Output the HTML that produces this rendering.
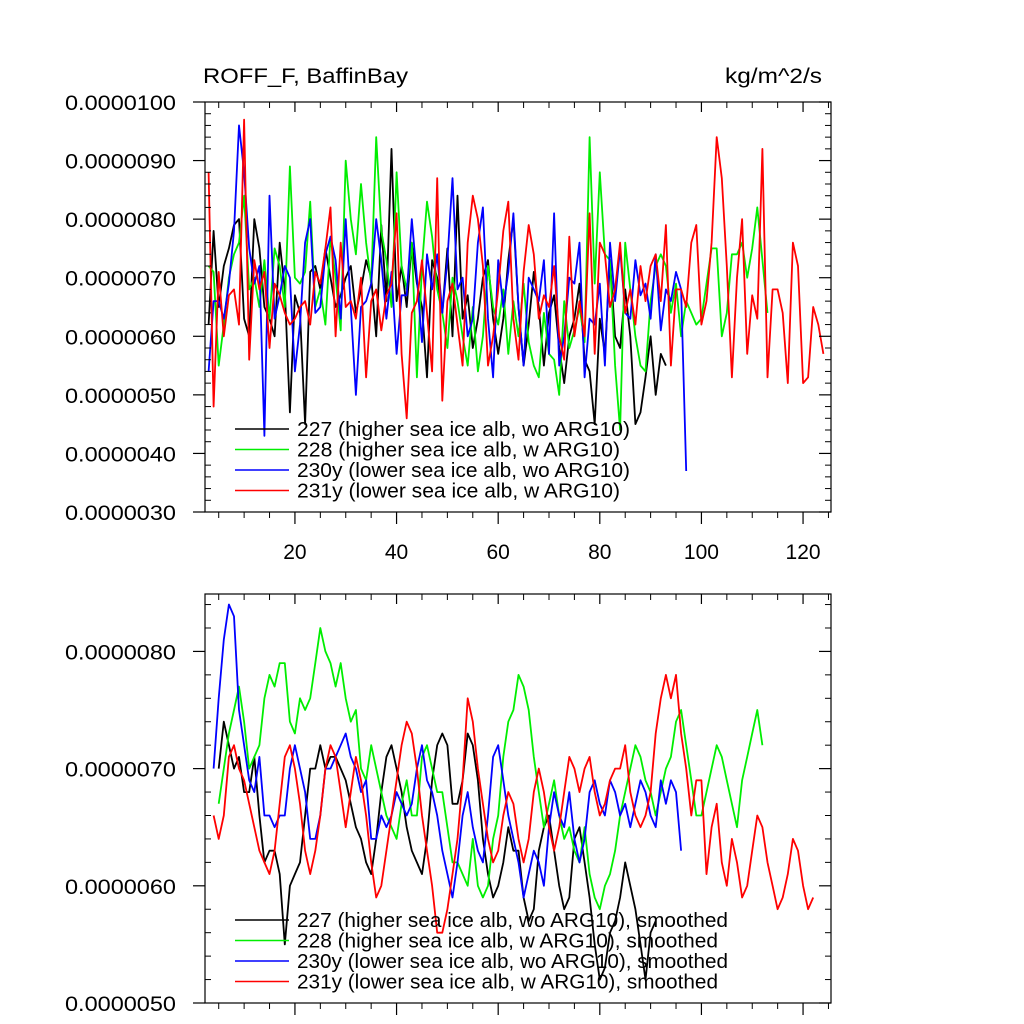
<!DOCTYPE html>
<html><head><meta charset="utf-8"><style>
html,body{margin:0;padding:0;background:#fff}
svg{display:block}
text{font-family:"Liberation Sans",Arial,sans-serif;fill:#000}
</style></head><body>
<svg id="chart" width="1024" height="1024" viewBox="0 0 1024 1024">
<text x="203" y="83" font-size="21" textLength="205" lengthAdjust="spacingAndGlyphs">ROFF_F, BaffinBay</text>
<text x="725" y="83" font-size="21" textLength="97" lengthAdjust="spacingAndGlyphs">kg/m^2/s</text>
</svg>
<script>
// ---- data (values in units of 1e-6 kg/m^2/s) ----
const xTicksTop = [20, 40, 60, 80, 100, 120];
const yTicksTop = [3, 4, 5, 6, 7, 8, 9, 10];
const yTicksBottom = [5, 6, 7, 8];
const seriesNames = ["227 (higher sea ice alb, wo ARG10)","228 (higher sea ice alb, w ARG10)","230y (lower sea ice alb, wo ARG10)","231y (lower sea ice alb, w ARG10)"];
const seriesColors = ["#000000","#00ee00","#0000ff","#ff0000"];
const startTop = [3, 3, 3, 3];
const raw227 = [6.2,7.8,6.5,7.2,7.5,7.9,8.0,6.3,6.0,8.0,7.5,6.5,6.3,6.0,7.6,6.8,4.7,6.7,6.4,4.5,7.1,7.2,6.8,7.5,7.0,6.5,6.7,7.0,7.2,6.4,6.8,7.3,7.0,6.0,7.9,6.6,9.2,6.6,7.2,6.5,7.6,6.9,6.5,5.3,7.3,7.0,6.4,7.5,6.0,8.4,6.3,6.7,5.8,6.3,7.0,7.3,6.3,5.7,6.3,7.3,8.0,6.5,5.5,6.2,7.1,6.5,5.5,6.4,6.7,5.8,5.2,6.0,6.3,6.9,5.6,5.4,4.5,6.3,5.7,7.3,6.0,5.8,6.8,6.0,4.5,4.7,5.3,6.0,5.0,5.7,5.5];
const raw228 = [7.2,7.1,5.5,6.2,7.0,7.4,7.6,8.4,6.8,7.0,6.5,7.3,6.3,7.5,7.2,6.5,8.9,7.0,6.9,7.1,8.3,6.5,6.8,6.2,7.7,7.0,6.1,9.0,8.0,7.4,8.6,7.6,6.9,9.4,7.8,7.3,6.5,8.8,7.2,6.8,7.6,5.3,7.2,8.3,7.7,6.8,6.4,5.8,7.0,6.6,6.0,5.5,6.5,5.4,6.0,7.2,6.5,6.2,6.8,5.7,6.6,6.0,6.9,5.9,5.5,5.3,6.4,5.7,5.6,5.0,6.6,5.8,6.1,6.5,5.9,9.4,6.9,8.8,7.4,7.3,5.5,4.4,7.6,6.8,6.0,5.5,5.4,6.6,7.2,7.4,7.2,6.4,6.9,6.0,6.6,6.4,6.2,6.3,6.9,7.5,7.5,6.0,6.4,7.4,7.4,7.6,7.0,7.5,8.2,7.3,6.4];
const raw230 = [5.4,6.6,6.6,6.3,6.9,7.8,9.6,8.8,7.5,6.9,7.2,4.3,8.4,6.3,6.7,7.2,7.0,5.4,6.2,7.6,8.0,6.4,6.5,7.4,7.7,7.3,6.3,8.0,6.5,5.0,6.5,6.6,6.9,8.0,7.3,6.3,7.1,5.7,6.7,6.7,8.0,7.0,5.9,7.4,6.8,7.4,6.4,7.3,8.7,6.8,7.0,6.0,6.3,7.6,8.2,6.3,5.3,7.3,6.5,7.1,8.1,6.5,5.5,7.0,6.8,6.6,7.3,5.7,8.1,5.5,6.0,7.0,6.9,7.6,5.3,6.3,6.2,6.9,5.5,7.6,6.6,7.5,6.4,6.3,7.3,6.7,6.9,6.3,7.4,6.1,6.8,6.6,7.1,6.8,3.7];
const raw231 = [8.8,4.8,7.1,6.0,6.7,6.8,6.2,9.7,5.6,7.3,6.8,7.1,5.8,6.9,6.7,6.4,6.2,6.3,6.5,6.6,6.2,7.1,6.9,7.5,8.2,6.0,7.6,6.5,6.6,6.3,7.0,5.3,6.6,6.8,6.1,6.7,6.9,8.1,5.7,4.6,6.4,6.6,7.3,6.4,5.4,8.7,4.9,6.6,6.9,6.2,5.5,7.6,8.4,8.0,7.2,5.5,6.0,6.8,7.8,8.3,6.3,5.6,7.1,7.9,7.4,6.3,6.7,6.5,7.2,6.0,5.6,7.7,6.0,6.6,6.0,8.1,5.7,7.6,7.4,6.5,6.8,7.6,6.4,6.8,6.2,7.2,6.6,7.2,7.4,6.6,7.9,5.5,6.8,6.8,6.5,7.6,7.9,6.2,6.6,7.6,9.4,8.7,7.2,5.3,7.0,8.0,5.7,6.7,6.3,9.2,5.3,6.8,6.8,6.4,5.2,7.6,7.2,5.2,5.3,6.5,6.2,5.7];
const startBottom = [5, 5, 4, 4];
const sm227 = [7.0,7.4,7.2,7.0,7.1,6.8,6.8,7.1,6.6,6.2,6.3,6.3,6.1,5.5,6.0,6.1,6.2,6.6,7.0,7.0,7.2,7.0,7.1,7.1,7.0,6.9,6.7,6.5,6.4,6.2,6.1,6.4,6.8,7.1,7.2,7.0,6.8,6.5,6.3,6.2,6.1,6.4,6.9,7.2,7.3,7.2,6.7,6.7,6.9,7.3,7.2,6.9,6.4,6.1,5.9,6.0,6.2,6.5,6.3,6.3,5.9,5.7,5.8,6.3,6.5,6.6,6.3,6.0,5.8,5.9,6.4,6.5,6.2,5.9,5.5,5.2,5.3,5.6,5.7,5.9,6.2,6.0,5.8,5.5,5.2,5.6,5.7];
const sm228 = [6.7,7.0,7.3,7.5,7.7,7.4,7.0,7.1,7.2,7.6,7.8,7.7,7.9,7.9,7.4,7.3,7.6,7.5,7.6,7.9,8.2,8.0,7.9,7.7,7.9,7.6,7.4,7.5,7.0,6.9,7.2,7.0,6.8,6.6,6.5,6.4,6.7,6.9,6.6,6.6,7.1,7.2,7.0,6.8,6.8,6.5,6.2,6.2,6.1,6.0,6.4,6.0,5.9,6.0,6.4,6.6,7.1,7.4,7.5,7.8,7.7,7.5,7.1,6.8,6.5,6.7,6.9,6.6,6.4,6.5,6.3,6.2,6.5,6.1,5.9,5.8,6.0,6.1,6.3,6.6,6.8,7.0,7.2,7.1,6.9,6.8,6.6,6.8,7.0,7.1,7.4,7.5,7.2,6.9,6.6,6.6,6.8,7.0,7.2,7.1,6.9,6.7,6.5,6.9,7.1,7.3,7.5,7.2];
const sm230 = [7.0,7.6,8.1,8.4,8.3,7.5,7.2,6.9,6.8,7.1,6.6,6.6,6.5,6.6,6.6,7.0,7.2,7.0,6.8,6.4,6.4,6.6,7.0,7.0,7.1,7.2,7.3,7.1,7.0,6.8,6.9,6.4,6.4,6.6,6.5,6.6,6.8,6.7,6.6,6.7,7.0,7.2,6.9,6.8,6.6,6.3,6.1,5.9,6.2,6.6,6.8,6.5,6.3,6.2,6.6,7.1,7.2,6.9,6.6,6.4,6.2,5.9,6.1,6.3,6.2,6.0,6.5,6.8,6.6,6.5,6.8,6.4,6.2,6.4,6.8,6.9,6.7,6.6,6.9,6.8,6.6,6.7,6.5,6.7,6.9,6.8,6.6,6.5,6.9,6.7,6.9,6.8,6.3];
const sm231 = [6.6,6.4,6.6,7.1,7.2,7.0,6.9,6.7,6.5,6.3,6.2,6.1,6.3,6.7,7.1,7.2,7.0,6.7,6.3,6.1,6.3,6.6,7.0,7.2,7.1,6.8,6.5,6.8,7.1,6.9,6.6,6.2,5.9,6.0,6.3,6.6,6.9,7.2,7.4,7.3,7.0,6.6,6.3,6.0,5.6,5.6,5.8,6.1,6.4,6.9,7.6,7.4,7.0,6.7,6.4,6.2,6.3,6.6,6.8,6.7,6.4,6.2,6.4,6.8,7.0,6.8,6.5,6.3,6.5,6.8,7.1,7.0,6.8,7.0,7.1,6.8,6.6,6.7,6.9,7.0,7.0,7.2,6.8,6.6,6.5,6.6,6.8,7.3,7.6,7.8,7.6,7.8,7.3,7.0,6.6,6.9,6.9,6.1,6.5,6.7,6.2,6.0,6.4,6.2,5.9,6.0,6.3,6.6,6.5,6.2,6.0,5.8,5.9,6.1,6.4,6.3,6.0,5.8,5.9];

const NS = "http://www.w3.org/2000/svg";
const svg = document.getElementById("chart");
function mk(tag, attrs, parent) {
  const e = document.createElementNS(NS, tag);
  for (const k in attrs) e.setAttribute(k, attrs[k]);
  (parent || svg).appendChild(e);
  return e;
}
const X0 = 205, X1 = 831, XMIN = 2.3, XMAX = 125.5;
function xs(v) { return X0 + (v - XMIN) / (XMAX - XMIN) * (X1 - X0); }

function panel(name, top, bot, ymin, ymax, yTicks, rawList, starts, legendY, suffix, showXLabels) {
  const ys = v => bot - (v - ymin) / (ymax - ymin) * (bot - top);
  const g = mk("g", {});
  
  
  rawList.forEach((arr, si) => {
    const pts = arr.map((v, i) => xs(starts[si] + i).toFixed(1) + "," + ys(v).toFixed(1)).join(" ");
    const pl = mk("polyline", {points: pts, fill: "none", stroke: seriesColors[si], "stroke-width": 1.8, "stroke-linejoin": "round"}, g);
    
    
  });
  const fr = mk("rect", {x: X0, y: top, width: X1 - X0, height: bot - top, fill: "none", stroke: "#000", "stroke-width": 1.2}, g);
  
  
  const step = (yTicks[1] - yTicks[0]) / 5;
  for (let v = ymin; v <= ymax + 1e-9; v += step) {
    const y = ys(v);
    if (y < top - 0.5) continue;
    const major = yTicks.some(t => Math.abs(t - v) < 1e-6);
    if (major) {
      mk("line", {x1: X0 - 12, x2: X0, y1: y, y2: y, stroke: "#000", "stroke-width": 1.2}, g);
      mk("line", {x1: X1, x2: X1 - 12, y1: y, y2: y, stroke: "#000", "stroke-width": 1.2}, g);
    } else {
      mk("line", {x1: X0, x2: X0 + 6, y1: y, y2: y, stroke: "#000", "stroke-width": 1}, g);
      mk("line", {x1: X1, x2: X1 - 6, y1: y, y2: y, stroke: "#000", "stroke-width": 1}, g);
    }
  }
  yTicks.forEach(v => {
    const t = mk("text", {x: 65, y: ys(v) + 8, "font-size": 21, textLength: 111, lengthAdjust: "spacingAndGlyphs"}, g);
    t.textContent = (v * 1e-6).toFixed(7);
    
    
  });
  for (let v = 5; v <= 125; v += 5) {
    const x = xs(v);
    const major = v % 20 === 0;
    if (major) {
      mk("line", {x1: x, x2: x, y1: bot, y2: bot + 12, stroke: "#000", "stroke-width": 1.2}, g);
      mk("line", {x1: x, x2: x, y1: top, y2: top + 10, stroke: "#000", "stroke-width": 1.2}, g);
    } else {
      mk("line", {x1: x, x2: x, y1: bot, y2: bot + 6, stroke: "#000", "stroke-width": 1}, g);
      mk("line", {x1: x, x2: x, y1: top, y2: top + 6, stroke: "#000", "stroke-width": 1}, g);
    }
  }
  if (showXLabels) xTicksTop.forEach(v => {
    const t = mk("text", {x: xs(v), y: bot + 47, "font-size": 21, "text-anchor": "middle"}, g);
    t.textContent = v;
    
    
  });
  const lg = mk("g", {}, g);
  
  
  seriesNames.forEach((n, i) => {
    const y = legendY + i * 20.5;
    mk("line", {x1: 235, x2: 289, y1: y, y2: y, stroke: seriesColors[i], "stroke-width": 1.6}, lg);
    const label = n + suffix;
    const t = mk("text", {x: 297, y: y + 7, "font-size": 20, textLength: Math.round(label.length * 9.8), lengthAdjust: "spacingAndGlyphs"}, lg);
    t.textContent = label;
    
    
  });
}
panel("top-panel", 102, 512, 3, 10, yTicksTop, [raw227, raw228, raw230, raw231], startTop, 429, "", true);
panel("bottom-panel", 594, 1003, 5, 8.49, yTicksBottom, [sm227, sm228, sm230, sm231], startBottom, 920, ", smoothed", false);
</script>
</body></html>
